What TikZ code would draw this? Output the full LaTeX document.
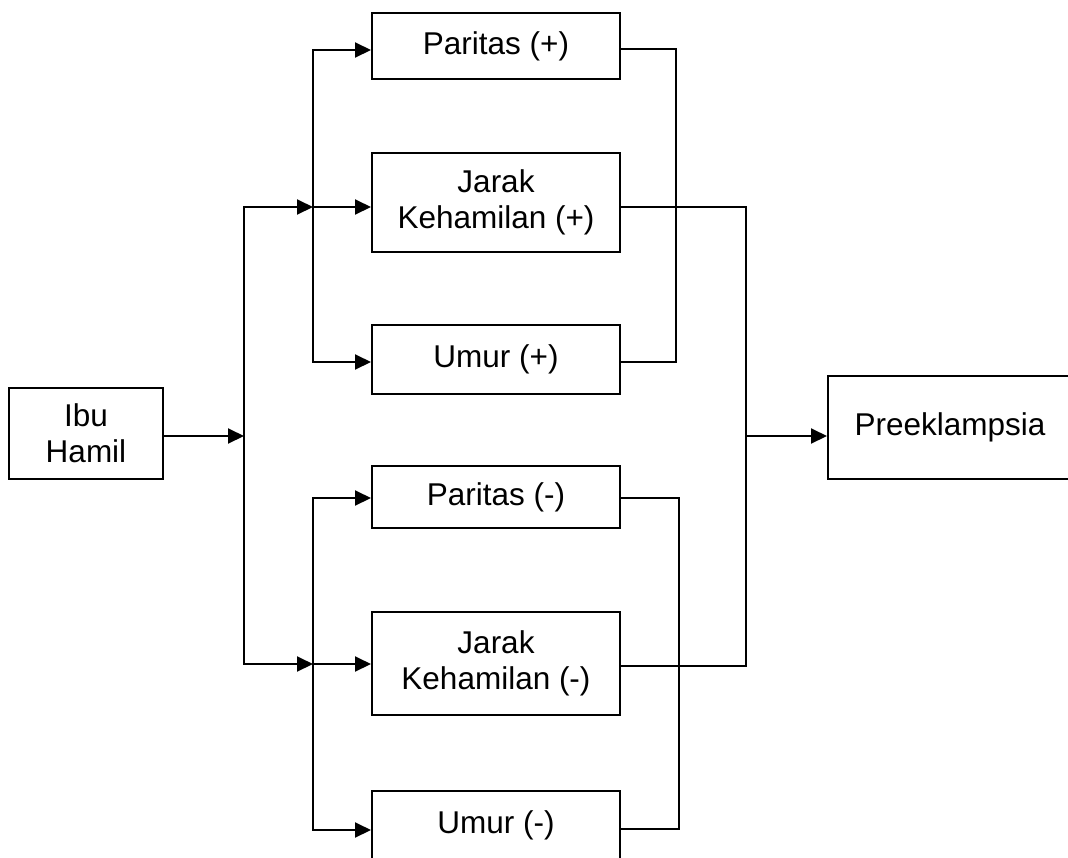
\documentclass[tikz,border=0pt]{standalone}
\usepackage{fontspec}
\setmainfont{Liberation Sans}
\usetikzlibrary{arrows.meta}
\tikzset{
  box/.style={draw, line width=2pt, rectangle, align=center, inner sep=0pt,
    font=\fontsize{31.5}{36}\selectfont, text=black},
  conn/.style={line width=2pt, line cap=rect},
  arr/.style={line width=2pt, -{Triangle[length=16pt,width=15pt]}}
}
\begin{document}
\begin{tikzpicture}[x=1pt,y=-1pt]
\clip (0,0) rectangle (1068,857);
\fill[white] (0,0) rectangle (1068,857);
% boxes
\node[box, minimum width=154, minimum height=91] (ib) at (86,433.5) {Ibu\\Hamil};
\node[box, minimum width=248, minimum height=66] (pp) at (496,46) {Paritas (+)};
\node[box, minimum width=248, minimum height=99] (jp) at (496,202.5) {Jarak\\Kehamilan (+)};
\node[box, minimum width=248, minimum height=69] (up) at (496,359.5) {Umur (+)};
\node[box, minimum width=248, minimum height=62] (pm) at (496,497) {Paritas (-)};
\node[box, minimum width=248, minimum height=103] (jm) at (496,663.5) {Jarak\\Kehamilan (-)};
\node[box, minimum width=248, minimum height=68] (um) at (496,825) {Umur (-)};
\node[box, minimum width=244, minimum height=103] (pe) at (950,427.5) {Preeklampsia};
% junction coordinates
\coordinate (s1) at (244,436);
\coordinate (t1) at (244,207);
\coordinate (b1) at (244,664);
\coordinate (ta) at (313,50);
\coordinate (tb) at (313,207);
\coordinate (tc) at (313,362);
\coordinate (ba) at (313,498);
\coordinate (bb) at (313,664);
\coordinate (bc) at (313,830);
\coordinate (ra) at (676,49);
\coordinate (rc) at (676,362);
\coordinate (qa) at (679,498);
\coordinate (qc) at (679,829);
\coordinate (jt) at (746,207);
\coordinate (jb) at (746,666);
\coordinate (jo) at (746,436);
% left side
\draw[arr] (s1 -| ib.east) -- (s1);
\draw[conn] (t1) -- (b1);
\draw[arr] (t1) -- (tb);
\draw[arr] (b1) -- (bb);
\draw[conn] (ta) -- (tc);
\draw[conn] (ba) -- (bc);
\draw[arr] (ta) -- (ta -| pp.west);
\draw[arr] (tb) -- (tb -| jp.west);
\draw[arr] (tc) -- (tc -| up.west);
\draw[arr] (ba) -- (ba -| pm.west);
\draw[arr] (bb) -- (bb -| jm.west);
\draw[arr] (bc) -- (bc -| um.west);
% right side
\draw[conn] (ra -| pp.east) -- (ra) -- (rc) -- (rc -| up.east);
\draw[conn] (qa -| pm.east) -- (qa) -- (qc) -- (qc -| um.east);
\draw[conn] (jt -| jp.east) -- (jt) -- (jb) -- (jb -| jm.east);
\draw[arr] (jo) -- (jo -| pe.west);
\end{tikzpicture}
\end{document}
